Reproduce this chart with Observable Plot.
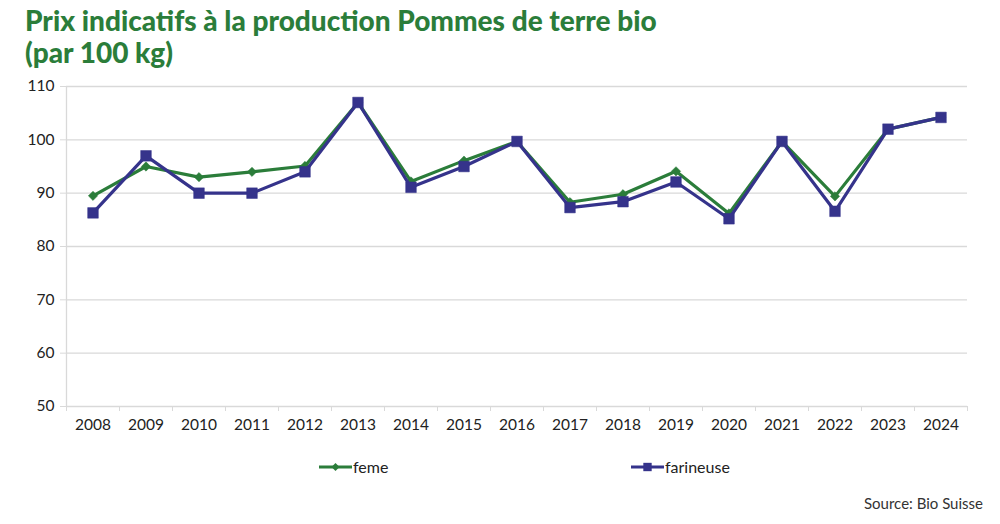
<!DOCTYPE html>
<html>
<head>
<meta charset="utf-8">
<script src="https://cdn.jsdelivr.net/npm/d3@7"></script>
<script src="https://cdn.jsdelivr.net/npm/@observablehq/plot@0.6"></script>
<style>
  html, body { margin: 0; padding: 0; background: #fff; }
  #root { position: relative; width: 1000px; height: 524px; overflow: hidden; font-family: "Lato", sans-serif; }
  #title { position: absolute; left: 25px; top: 4px; font-size: 28px; font-weight: 900; line-height: 32px; color: #2b7d3a; }
  #chart { position: absolute; left: 0; top: 70px; }
  .leg { position: absolute; top: 457px; font-size: 16px; color: #222; display: flex; align-items: center; }
  .leg svg { margin-right: 1px; }
  #source { position: absolute; right: 17px; top: 494px; font-size: 15px; color: #333; }
</style>
</head>
<body>
<div id="root">
  <div id="title">Prix indicatifs à la production Pommes de terre bio<br>(par 100 kg)</div>
  <div id="chart"></div>
  <div class="leg" id="leg1" style="left:319px"></div>
  <div class="leg" id="leg2" style="left:631px"></div>
  <div id="source">Source: Bio Suisse</div>
</div>
<script>
const years = [2008, 2009, 2010, 2011, 2012, 2013, 2014, 2015, 2016, 2017, 2018, 2019, 2020, 2021, 2022, 2023, 2024];
const feme = [89.5, 95, 93, 94, 95.1, 107, 92.2, 96.1, 99.7, 88.3, 89.8, 94.1, 86.2, 99.7, 89.4, 102, 104.2];
const farineuse = [86.3, 97, 90, 90, 94, 107, 91.1, 95, 99.7, 87.3, 88.4, 92.1, 85.2, 99.7, 86.6, 102, 104.2];
const seriesNames = ["feme", "farineuse"];
const yTicks = [50, 60, 70, 80, 90, 100, 110];

const GREEN = "#2b7d3a";
const BLUE = "#35338b";
const GRID = "#d9d9d9";

const rows = [];
years.forEach((y, i) => {
  rows.push({year: y, value: feme[i], series: seriesNames[0]});
});
years.forEach((y, i) => {
  rows.push({year: y, value: farineuse[i], series: seriesNames[1]});
});
const femeRows = rows.filter(d => d.series === "feme");
const farRows = rows.filter(d => d.series === "farineuse");
const boundaries = years.map(y => y - 0.5).concat([years[years.length - 1] + 0.5]);

const chart = Plot.plot({
  width: 1000,
  height: 380,
  marginTop: 16,
  marginBottom: 44,
  marginLeft: 66,
  marginRight: 33,
  style: {fontFamily: "Lato, sans-serif", fontSize: "15px", color: "#222", background: "transparent"},
  x: {domain: [boundaries[0], boundaries[boundaries.length - 1]]},
  y: {domain: [yTicks[0], yTicks[yTicks.length - 1]]},
  marks: [
    Plot.gridY(yTicks, {stroke: GRID, strokeOpacity: 1, strokeWidth: 1.3}),
    Plot.ruleX([boundaries[0]], {stroke: GRID, strokeWidth: 1.3}),
    Plot.axisY(yTicks, {tickSize: 6, tickPadding: 6, stroke: GRID, strokeOpacity: 1, fontSize: 15.5, fill: "#222", label: null}),
    Plot.axisX(boundaries, {tickSize: 5, tickFormat: () => "", stroke: GRID, strokeOpacity: 1, label: null}),
    Plot.axisX(years, {tickSize: 0, tickPadding: 12, tickFormat: d => String(d), fontSize: 15.5, fill: "#222", label: null}),
    Plot.line(femeRows, {x: "year", y: "value", stroke: GREEN, strokeWidth: 3.2}),
    Plot.dot(femeRows, {x: "year", y: "value", symbol: "diamond2", r: 4.2, fill: GREEN, stroke: GREEN, strokeWidth: 0.5}),
    Plot.line(farRows, {x: "year", y: "value", stroke: BLUE, strokeWidth: 3.2}),
    Plot.dot(farRows, {x: "year", y: "value", symbol: "square", r: 6, fill: BLUE, stroke: BLUE, strokeWidth: 0.5})
  ]
});
document.getElementById("chart").appendChild(chart);

// Legend swatches
function swatch(color, symbol) {
  const ns = "http://www.w3.org/2000/svg";
  const s = document.createElementNS(ns, "svg");
  s.setAttribute("width", 33); s.setAttribute("height", 16);
  const l = document.createElementNS(ns, "line");
  l.setAttribute("x1", 0); l.setAttribute("x2", 33); l.setAttribute("y1", 8); l.setAttribute("y2", 8);
  l.setAttribute("stroke", color); l.setAttribute("stroke-width", 3);
  s.appendChild(l);
  const p = document.createElementNS(ns, "path");
  p.setAttribute("d", d3.symbol(symbol, symbol === d3.symbolSquare ? 70 : 40)());
  p.setAttribute("transform", "translate(16.5,8)");
  p.setAttribute("fill", color);
  s.appendChild(p);
  return s;
}
const l1 = document.getElementById("leg1");
l1.appendChild(swatch(GREEN, d3.symbolDiamond2));
l1.appendChild(document.createTextNode(seriesNames[0]));
const l2 = document.getElementById("leg2");
l2.appendChild(swatch(BLUE, d3.symbolSquare));
l2.appendChild(document.createTextNode(seriesNames[1]));
</script>
</body>
</html>
